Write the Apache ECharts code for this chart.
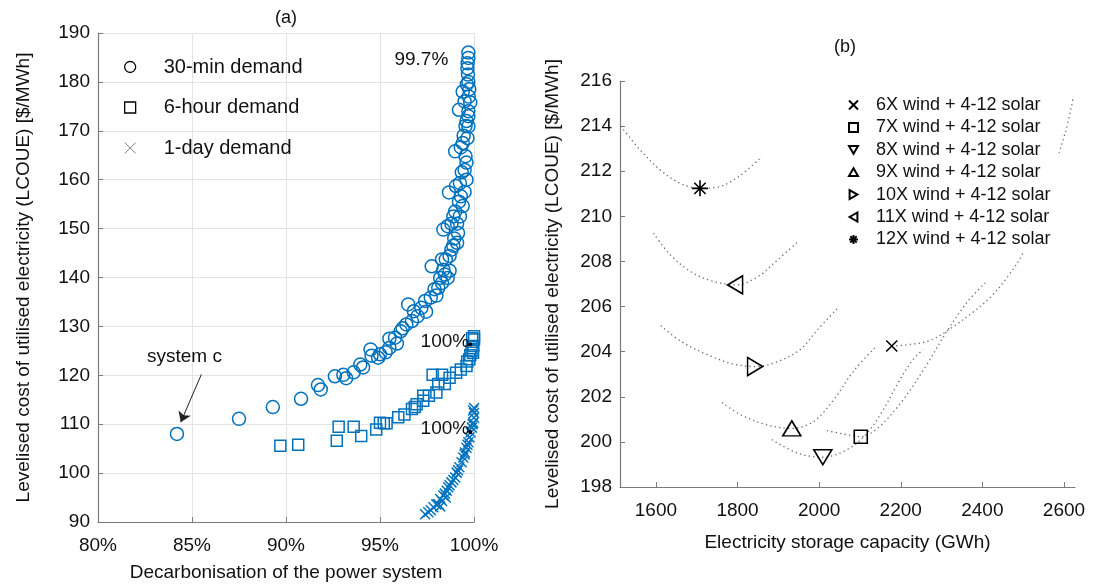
<!DOCTYPE html>
<html><head><meta charset="utf-8">
<script src="https://cdn.jsdelivr.net/npm/echarts@6/dist/echarts.min.js"></script>
<style>html,body{margin:0;padding:0;background:#fff}#c{width:1094px;height:587px}</style>
</head><body><div id="c"></div>
<script>
// ---------- Panel (a) data ----------
const decarbTicks = [80, 85, 90, 95, 100];
const demand30min = [
  [84.2,108.0],[87.5,111.1],[89.3,113.5],[90.8,115.2],[91.7,118.0],[91.85,117.1],[92.6,119.8],[93.05,120.1],
  [93.2,119.4],[93.6,120.6],[93.95,122.2],[94.1,121.6],[94.5,125.3],[94.55,124.0],[94.9,123.6],[95.0,124.3],
  [95.3,124.7],[95.5,125.6],[95.5,127.5],[95.8,127.7],[95.9,126.5],[96.1,129.0],[96.2,129.6],[96.4,130.4],
  [96.5,134.5],[96.7,131.1],[96.8,133.1],[97.0,132.1],[97.2,133.8],[97.4,135.2],[97.45,133.0],[97.7,135.9],
  [97.75,142.3],[97.9,137.6],[98.0,136.3],[98.1,137.9],[98.2,139.9],[98.3,138.9],[98.3,143.7],[98.37,141.6],
  [98.37,149.8],[98.45,140.6],[98.5,143.7],[98.6,139.9],[98.6,150.5],[98.67,157.4],[98.7,141.4],[98.7,144.4],
  [98.8,145.7],[98.8,151.0],[98.9,152.5],[98.9,146.5],[98.95,148.0],[99.0,153.5],[99.0,165.8],[99.04,158.7],
  [99.1,147.1],[99.1,151.0],[99.15,149.1],[99.2,174.3],[99.2,155.5],[99.25,152.5],[99.25,159.3],[99.3,156.6],
  [99.3,166.6],[99.35,161.5],[99.4,154.6],[99.4,167.5],[99.4,178.0],[99.45,169.0],[99.5,162.0],[99.5,157.5],
  [99.5,176.0],[99.55,164.8],[99.55,171.0],[99.6,160.0],[99.6,163.5],[99.6,172.0],[99.62,179.5],[99.65,168.5],
  [99.65,182.8],[99.66,183.8],[99.68,181.5],[99.7,170.9],[99.7,173.0],[99.7,174.0],[99.7,180.0],[99.7,184.9],
  [99.7,186.0],[99.72,177.0],[99.75,178.5],[99.8,175.8]
];
const demand6hour = [
  [89.7,105.6],[90.65,105.8],[92.7,106.6],[92.8,109.5],[93.6,109.5],[94.0,107.6],[94.8,108.9],[95.0,110.3],
  [95.2,110.2],[95.35,110.2],[95.97,111.4],[96.3,112.0],[96.7,113.1],[96.85,113.5],[96.95,114.1],[97.3,114.8],
  [97.3,115.8],[97.6,115.8],[98.0,116.5],[97.8,120.1],[98.3,120.1],[98.1,118.2],[98.45,118.2],[98.7,119.5],
  [99.05,120.5],[99.3,121.2],[99.6,121.9],[99.64,122.8],[99.75,123.3],[99.8,124.1],[99.87,125.0],[99.95,124.6],
  [99.96,126.0],[99.9,127.6],[100,127.3],[100,128.0]
];
const demand1day = [
  [97.4,91.6],[97.57,92.0],[97.7,92.4],[97.84,93.0],[98.0,93.6],[98.1,93.7],[98.2,93.2],[98.2,94.7],[98.3,94.3],
  [98.37,95.4],[98.45,95.8],[98.5,95.0],[98.55,96.4],[98.63,97.1],[98.7,97.5],[98.8,98.1],[98.9,98.6],[99.0,99.1],
  [99.08,100.1],[99.15,100.6],[99.22,101.2],[99.34,102.2],[99.43,103.2],[99.5,103.8],[99.52,104.2],[99.6,105.2],
  [99.65,105.8],[99.7,106.3],[99.75,107.3],[99.82,108.3],[99.89,109.3],[99.93,110.0],[99.96,110.3],[100,111.3],
  [99.95,112.8],[100,112.3],[100,113.3]
];
const notesA = [
  {value:[97.2,184.5], name:'99.7%'},
  {value:[98.45,126.9], name:'100%'},
  {value:[98.45,109.0], name:'100%'},
  {value:[84.6,123.7], name:'system c'}
];
const noteDotsA = [[99.8,126.3],[99.8,108.4]];
const arrowA = [[85.5,120.2],[84.4,110.4]];

// ---------- Panel (b) data ----------
const storageTicks = [1600, 1800, 2000, 2200, 2400, 2600];
const windNames = ['6X wind + 4-12 solar','7X wind + 4-12 solar','8X wind + 4-12 solar','9X wind + 4-12 solar',
                   '10X wind + 4-12 solar','11X wind + 4-12 solar','12X wind + 4-12 solar'];
const optimum6X  = [2178,204.25];
const optimum7X  = [2102,200.23];
const optimum8X  = [2009,199.32];
const optimum9X  = [1933,200.6];
const optimum10X = [1843,203.34];
const optimum11X = [1794,206.96];
const optimum12X = [1708,211.24];
const curve6X  = [[2178,204.25],[2215,204.3],[2272,204.5],[2328,205.1],[2377,205.75],[2419,206.4],[2461,207.3],[2500,208.4],[2553,211.0],[2603,213.7],[2622,215.2]];
const curve7X  = [[2019,200.5],[2059,200.35],[2102,200.23],[2143,200.6],[2203,201.8],[2263,203.4],[2313,204.9],[2363,206.2],[2407,207.05]];
const curve8X  = [[1884,200.1],[1948,199.5],[2009,199.32],[2068,199.65],[2113,200.3],[2153,201.3],[2193,202.6],[2228,203.6],[2255,204.1]];
const curve9X  = [[1762,201.75],[1808,201.2],[1873,200.75],[1933,200.6],[1986,200.9],[2035,201.85],[2085,203.15],[2138,204.2]];
const curve10X = [[1612,205.15],[1662,204.45],[1735,203.8],[1790,203.45],[1843,203.34],[1897,203.55],[1954,204.1],[1995,204.95],[2044,205.9]];
const curve11X = [[1594,209.25],[1635,208.3],[1685,207.55],[1734,207.15],[1794,206.96],[1848,207.3],[1897,208.05],[1950,208.9]];
const curve12X = [[1514,214.0],[1561,212.95],[1611,212.05],[1661,211.45],[1708,211.24],[1752,211.3],[1802,211.75],[1860,212.65]];

const FONT = 'Liberation Sans, Arial, Helvetica, sans-serif';
const BLUE = '#0072BD';
const AXIS = '#7a7a7a';
const CROSS = 'path://M0,0L10,10M10,0L0,10';
const STAR = 'path://M5,0L5,10M0,5L10,5M1.46,1.46L8.54,8.54M8.54,1.46L1.46,8.54';
const TRI_DOWN = 'path://M0,0L10,0L5,8.66Z';
const TRI_UP = 'path://M5,0L10,8.66L0,8.66Z';
const TRI_RIGHT = 'path://M0,0L8.66,5L0,10Z';
const TRI_LEFT = 'path://M8.66,0L0,5L8.66,10Z';
const HOLLOW = 'rgba(0,0,0,0)';

const chart = echarts.init(document.getElementById('c'), null, {renderer:'canvas'});

function axisCommon(extra){
  return Object.assign({
    axisLine:{show:true, onZero:false, lineStyle:{color:AXIS, width:1.2}},
    axisTick:{show:true, inside:true, length:5, lineStyle:{color:AXIS, width:1}},
    nameLocation:'middle',
    nameTextStyle:{color:'#111', fontSize:19, fontFamily:FONT}
  }, extra);
}

const curves = [curve6X,curve7X,curve8X,curve9X,curve10X,curve11X,curve12X];
const optima = [optimum6X,optimum7X,optimum8X,optimum9X,optimum10X,optimum11X,optimum12X];
const markerDefs = [
  {symbol:CROSS, size:[11,11]},
  {symbol:'rect', size:[13,13]},
  {symbol:TRI_DOWN, size:[18,15]},
  {symbol:TRI_UP, size:[18,15]},
  {symbol:TRI_RIGHT, size:[15,18]},
  {symbol:TRI_LEFT, size:[15,18]},
  {symbol:STAR, size:[16,16]}
];

const seriesB = [];
curves.forEach((c,i)=>{
  seriesB.push({
    type:'line', name:'curve'+i, xAxisIndex:1, yAxisIndex:1, data:c, smooth:0.35, showSymbol:false, symbol:'none',
    silent:true, z:1,
    lineStyle:{color:'#6a6a6a', width:1.3, type:[1.3,3.2]}
  });
});
optima.forEach((p,i)=>{
  const m = markerDefs[i];
  seriesB.push({
    type:'scatter', name:windNames[i], xAxisIndex:1, yAxisIndex:1, data:[p],
    symbol:m.symbol, symbolSize:m.size, z:3,
    itemStyle:{color:HOLLOW, borderColor:'#000', borderWidth:1.6, opacity:1}
  });
});

const option = {
  animation:false,
  backgroundColor:'#fff',
  textStyle:{fontFamily:FONT},
  graphic:[
    {type:'text', x:286, y:18, style:{text:'(a)', fill:'#111', font:'18px '+FONT, textAlign:'center', textVerticalAlign:'middle'}},
    {type:'text', x:845, y:47, style:{text:'(b)', fill:'#111', font:'18px '+FONT, textAlign:'center', textVerticalAlign:'middle'}}
  ],
  grid:[
    {left:98, top:33, width:376, height:490},
    {left:620, top:81, width:455, height:406}
  ],
  xAxis:[
    axisCommon({gridIndex:0, type:'value', min:80, max:100, interval:5,
      name:'Decarbonisation of the power system', nameGap:41,
      axisLabel:{color:'#111', fontSize:19, fontFamily:FONT, formatter:'{value}%', margin:14},
      splitLine:{show:true, lineStyle:{color:'#e3e3e3', width:1}}}),
    axisCommon({gridIndex:1, type:'value', min:1512, max:2627,
      name:'Electricity storage capacity (GWh)', nameGap:46,
      axisLabel:{color:'#111', fontSize:19, fontFamily:FONT, margin:14, customValues:storageTicks,
        formatter:v=>String(v)},
      axisTick:{show:true, inside:true, length:5, lineStyle:{color:AXIS, width:1}, customValues:storageTicks},
      splitLine:{show:false}})
  ],
  yAxis:[
    axisCommon({gridIndex:0, type:'value', min:90, max:190, interval:10,
      name:'Levelised cost of utilised electricity (LCOUE) [$/MWh]', nameGap:65,
      axisLabel:{color:'#111', fontSize:19, fontFamily:FONT, margin:8},
      splitLine:{show:true, lineStyle:{color:'#e3e3e3', width:1}}}),
    axisCommon({gridIndex:1, type:'value', min:198, max:216, interval:2,
      name:'Levelised cost of utilised electricity (LCOUE) [$/MWh]', nameGap:58,
      axisLabel:{color:'#111', fontSize:19, fontFamily:FONT, margin:8},
      splitLine:{show:false}})
  ],
  legend:[
    {
      orient:'vertical', left:124, top:57, padding:0, itemWidth:11, itemHeight:11, itemGap:20.5,
      textStyle:{fontSize:20, fontFamily:FONT, color:'#111', lineHeight:20, padding:[0,0,0,23]},
      selectedMode:false,
      data:[
        {name:'30-min demand', icon:'circle', itemStyle:{color:HOLLOW, borderColor:'#000', borderWidth:1.3}},
        {name:'6-hour demand', icon:'rect', itemStyle:{color:HOLLOW, borderColor:'#000', borderWidth:1.3}},
        {name:'1-day demand', icon:CROSS, itemStyle:{color:HOLLOW, borderColor:'#808080', borderWidth:1}}
      ]
    },
    {
      orient:'vertical', left:842, top:92, padding:[4,8,4,6], itemWidth:9, itemHeight:9, itemGap:4.4,
      backgroundColor:'#fff',
      textStyle:{fontSize:18, fontFamily:FONT, color:'#111', lineHeight:18, padding:[0,0,0,13]},
      selectedMode:false,
      data:windNames
    }
  ],
  series:[
    {type:'scatter', name:'30-min demand', xAxisIndex:0, yAxisIndex:0, data:demand30min, symbol:'circle', symbolSize:13,
      itemStyle:{color:HOLLOW, borderColor:BLUE, borderWidth:1.5, opacity:1}},
    {type:'scatter', name:'6-hour demand', xAxisIndex:0, yAxisIndex:0, data:demand6hour, symbol:'rect', symbolSize:11,
      itemStyle:{color:HOLLOW, borderColor:BLUE, borderWidth:1.5, opacity:1}},
    {type:'scatter', name:'1-day demand', xAxisIndex:0, yAxisIndex:0, data:demand1day, symbol:CROSS, symbolSize:10,
      itemStyle:{color:HOLLOW, borderColor:BLUE, borderWidth:1.5, opacity:1}},
    {type:'scatter', name:'dots', xAxisIndex:0, yAxisIndex:0, data:noteDotsA, symbol:'circle', symbolSize:4,
      silent:true, itemStyle:{color:'#000', opacity:1}},
    {type:'scatter', name:'notes', xAxisIndex:0, yAxisIndex:0, data:notesA, symbolSize:0, silent:true, z:5,
      itemStyle:{opacity:1},
      label:{show:true, position:'inside', formatter:p=>p.data.name, color:'#111', fontSize:19, fontFamily:FONT, opacity:1},
      markLine:{silent:true, symbol:['none','arrow'], symbolSize:10, animation:false,
        lineStyle:{color:'#222', width:1, type:'solid', opacity:1}, label:{show:false},
        data:[[{coord:arrowA[0]},{coord:arrowA[1]}]]}}
  ].concat(seriesB)
};
chart.setOption(option);
</script>
</body></html>
